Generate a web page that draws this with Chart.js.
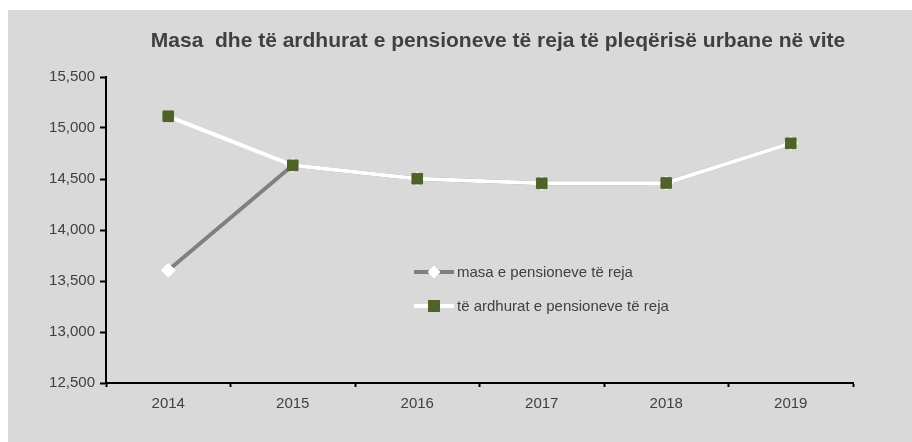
<!DOCTYPE html>
<html>
<head>
<meta charset="utf-8">
<script src="https://cdn.jsdelivr.net/npm/chart.js@4/dist/chart.umd.min.js"></script>
<style>
  html, body { margin:0; padding:0; background:#fff; }
  #wrap { position:absolute; left:8px; top:10px; width:904px; height:432px; background:#d9d9d9; }
</style>
</head>
<body>
<div id="wrap"><canvas id="chart"></canvas></div>
<script>
// ============ DATA ============
var vitet = ['2014', '2015', '2016', '2017', '2018', '2019'];
var masa = [13605, 14634, 14503, 14458, 14461, 14850];
var ardhurat = [15115, 14634, 14503, 14458, 14461, 14850];
var yTicks = [12500, 13000, 13500, 14000, 14500, 15000, 15500];

var titulli = 'Masa  dhe të ardhurat e pensioneve të reja të pleqërisë urbane në vite';
var emrat = ['masa e pensioneve të reja', 'të ardhurat e pensioneve të reja'];

var FONT = "'Liberation Sans', Arial, sans-serif";
var GRI = '#404040';

// titulli + legjenda brenda grafikut
var vizatoTekstet = {
  id: 'vizatoTekstet',
  afterDraw: function(chart) {
    var ctx = chart.ctx;
    ctx.save();
    ctx.fillStyle = GRI;
    ctx.font = 'bold 21px ' + FONT;
    ctx.textAlign = 'center';
    ctx.textBaseline = 'middle';
    ctx.fillText(titulli, 490, 31);

    // legjenda
    var ds = chart.data.datasets;
    var rreshtat = [262, 296];
    ctx.font = '15px ' + FONT;
    ctx.textAlign = 'left';
    for (var i = 0; i < ds.length; i++) {
      var y = rreshtat[i];
      ctx.strokeStyle = ds[i].borderColor;
      ctx.lineWidth = 4;
      ctx.beginPath();
      ctx.moveTo(406, y);
      ctx.lineTo(446, y);
      ctx.stroke();
      ctx.fillStyle = ds[i].pointBackgroundColor;
      ctx.strokeStyle = ds[i].pointBorderColor;
      ctx.lineWidth = 1;
      ctx.beginPath();
      if (ds[i].pointStyle === 'rect') {
        ctx.rect(426 - 5.5, y - 5.5, 11, 11);
      } else {
        ctx.moveTo(426, y - 6); ctx.lineTo(432, y); ctx.lineTo(426, y + 6); ctx.lineTo(420, y); ctx.closePath();
      }
      ctx.fill();
      ctx.stroke();
      ctx.fillStyle = GRI;
      ctx.fillText(emrat[i], 449, y + 1);
    }
    ctx.restore();
  }
};

new Chart(document.getElementById('chart'), {
  type: 'line',
  data: {
    labels: vitet,
    datasets: [{
      label: emrat[0],
      data: masa,
      order: 2,
      borderColor: '#808080',
      borderWidth: 4,
      pointStyle: 'rectRot',
      pointRadius: 7,
      pointBackgroundColor: '#ffffff',
      pointBorderColor: '#ffffff',
      pointBorderWidth: 1,
      tension: 0
    }, {
      label: emrat[1],
      data: ardhurat,
      order: 1,
      borderColor: '#ffffff',
      borderWidth: 4,
      pointStyle: 'rect',
      pointRadius: 7.5,
      pointBackgroundColor: '#4f6228',
      pointBorderColor: '#4f6228',
      pointBorderWidth: 1,
      tension: 0
    }]
  },
  options: {
    responsive: true,
    maintainAspectRatio: false,
    animation: false,
    layout: { padding: { top: 67, right: 59, left: 0, bottom: 0 } },
    plugins: {
      legend: { display: false },
      title: { display: false },
      tooltip: { enabled: false }
    },
    scales: {
      x: {
        offset: true,
        grid: { offset: true, drawOnChartArea: false, tickLength: 4, tickColor: '#000', tickWidth: 2 },
        border: { display: true, color: '#000', width: 2 },
        ticks: { color: GRI, font: { family: FONT, size: 15 }, padding: 8 },
        afterFit: function(s) { s.height = 59; }
      },
      y: {
        min: 12500,
        max: 15500,
        afterBuildTicks: function(s) { s.ticks = yTicks.map(function(v) { return { value: v }; }); },
        grid: { drawOnChartArea: false, tickLength: 6, tickColor: '#000', tickWidth: 2 },
        border: { display: true, color: '#000', width: 2 },
        ticks: {
          color: GRI,
          font: { family: FONT, size: 15 },
          padding: 5,
          callback: function(v) { return Number(v).toLocaleString('en-US'); }
        },
        afterFit: function(s) { s.width = 98; }
      }
    }
  },
  plugins: [vizatoTekstet]
});
</script>
</body>
</html>
